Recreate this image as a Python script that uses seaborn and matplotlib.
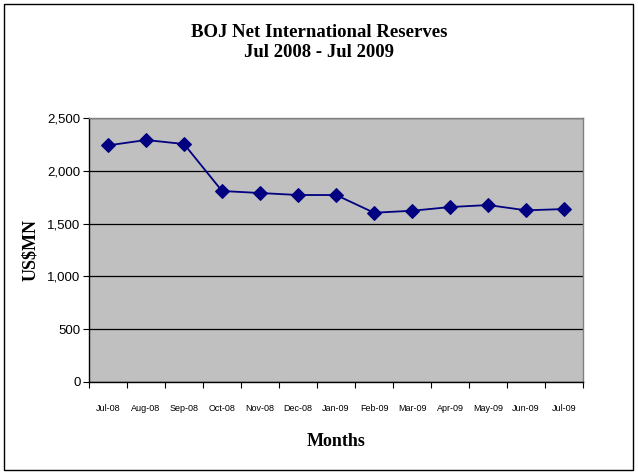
import numpy as np
import pandas as pd
import matplotlib.pyplot as plt
import seaborn as sns
from matplotlib.ticker import FuncFormatter, FixedLocator

months = ['Jul-08', 'Aug-08', 'Sep-08', 'Oct-08', 'Nov-08', 'Dec-08', 'Jan-09',
          'Feb-09', 'Mar-09', 'Apr-09', 'May-09', 'Jun-09', 'Jul-09']
reserves = [2241, 2292, 2254, 1809, 1790, 1771, 1771, 1603, 1622, 1657, 1676, 1626, 1638]

df = pd.DataFrame({'pos': np.arange(len(months)), 'month': months, 'reserves': reserves})

sns.set_style('white', {'text.color': 'black', 'axes.labelcolor': 'black',
                        'xtick.color': 'black', 'ytick.color': 'black'})
plt.rcParams['font.family'] = ['Liberation Sans', 'DejaVu Sans']

fig = plt.figure(figsize=(6.38, 4.76), dpi=100)
ax = fig.add_axes([0.1395, 0.1975, 0.7745, 0.5545])
ax.set_facecolor('#C0C0C0')

sns.lineplot(data=df, x='pos', y='reserves', ax=ax, color='#000080', marker='D',
             markersize=7, markeredgecolor='#000080', linewidth=1.3)

ax.set_xlim(-0.5, len(months) - 0.5)
ax.set_ylim(0, 2500)
ax.set_yticks(np.arange(0, 2501, 500))
ax.yaxis.set_major_formatter(FuncFormatter(lambda v, p: f'{int(v):,}'))
ax.yaxis.grid(True, color='black', linewidth=0.9)
ax.set_axisbelow(True)

ax.set_xticks(np.arange(len(months)))
ax.set_xticklabels(months, fontsize=6.5)
ax.xaxis.set_minor_locator(FixedLocator(np.arange(-0.5, len(months), 1)))
ax.tick_params(axis='x', which='both', bottom=True)
ax.tick_params(axis='x', which='major', length=0, pad=16)
ax.tick_params(axis='x', which='minor', length=4, width=0.8, color='black', direction='out')
ax.tick_params(axis='y', left=True, length=4, width=0.8, color='black', direction='out',
               labelsize=9.5, pad=2)

for s in ['left', 'bottom']:
    ax.spines[s].set_color('black')
    ax.spines[s].set_linewidth(1)
for s in ['top', 'right']:
    ax.spines[s].set_color('#808080')
    ax.spines[s].set_linewidth(1)

ax.set_xlabel('Months', fontfamily='Liberation Serif', fontweight='bold', fontsize=13, labelpad=14)
ax.set_ylabel('US$MN', fontfamily='Liberation Serif', fontweight='bold', fontsize=13, labelpad=6)

fig.text(0.5, 0.95, 'BOJ Net International Reserves\nJul 2008 - Jul 2009', ha='center', va='top',
         fontfamily='Liberation Serif', fontweight='bold', fontsize=13.5, linespacing=1.25,
         color='black')

fig.patches.append(plt.Rectangle((0.006, 0.012), 0.986, 0.98, transform=fig.transFigure,
                                 fill=False, edgecolor='black', linewidth=1))

fig.savefig('out.png', dpi=100)
